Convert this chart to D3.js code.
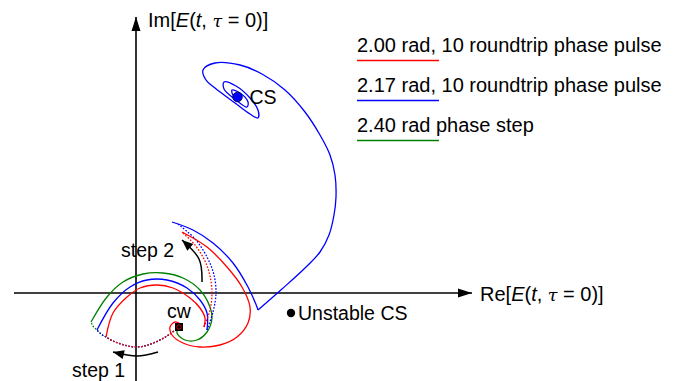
<!DOCTYPE html>
<html>
<head>
<meta charset="utf-8">
<script src="https://cdn.jsdelivr.net/npm/d3@7"></script>
<style>
  body { margin: 0; background: #fff; }
  svg { display: block; font-family: "Liberation Sans", Arial, sans-serif; }
</style>
</head>
<body>
<div id="chart"></div>
<script>
// special points (Re, Im) in arbitrary field units
const cwPoint = [4.3, -3.4];
const csPoint = [10.15, 19.6];
const unstablePoint = [15.5, -2.0];

// step 1 : phase jump from cw (dotted)
const step1Path = [[4.3, -3.4], [3.4, -4.1], [2.4, -4.7], [1.2, -5.2], [0, -5.4], [-1.2, -5.2],
  [-2.3, -4.8], [-3.0, -4.4], [-3.5, -4.1], [-3.9, -3.7], [-4.3, -3.3], [-4.5, -2.9]];
const step1End = { red: 8, blue: 10, green: 12 };

// evolution after step 1 (solid)
const arcRed = [[-3.0, -4.4], [-2.3, -2.0], [-0.9, -0.4], [0.4, 0.5], [2.1, 0.8], [3.7, 0.5],
  [5.4, -0.5], [6.4, -1.5], [6.9, -2.5], [6.8, -3.4]];
const arcBlue = [[-3.9, -3.7], [-2.3, -1.0], [-0.6, 0.6], [1.1, 1.3], [3.1, 1.3], [5.1, 0.5],
  [6.4, -0.7], [7.1, -2.0], [7.1, -3.7]];
const arcGreen = [[-4.5, -2.9], [-2.9, -0.4], [-1.3, 1.1], [0.7, 1.9], [2.7, 2.0], [4.7, 1.5],
  [6.4, 0.3], [7.4, -1.4], [7.6, -2.5], [7.1, -3.9], [6.1, -4.7], [4.9, -4.7], [4.1, -4.0], [4.3, -3.4]];

// step 2 : phase jump back (dotted)
const step2Red = [[6.8, -3.4], [7.4, -1.7], [7.6, 0], [7.4, 1.7], [6.9, 3.2], [5.9, 4.8], [4.6, 6.1]];
const step2Blue = [[7.1, -3.7], [7.7, -1.9], [8.0, 0], [7.8, 1.8], [7.2, 3.4], [6.0, 5.3], [4.2, 6.9]];

// evolution after step 2 (solid)
const returnRed = [[4.6, 6.1], [7.1, 4.6], [9.1, 2.6], [10.6, 0.6], [11.4, -1.4], [11.2, -3.0],
  [10.1, -4.4], [8.4, -5.2], [6.4, -5.4], [4.7, -5.0], [3.6, -4.2], [3.4, -3.4], [3.9, -2.9],
  [4.5, -3.2], [4.4, -3.6], [4.3, -3.4]];
const returnBlueA = [[3.6, 7.1], [5.7, 6.3], [7.7, 5.0], [9.7, 3.0], [11.2, 0.6], [12.1, -1.4], [12.2, -1.7]];
const returnBlueB = [[12.2, -1.7], [14.6, 0.4], [16.9, 2.5], [18.4, 4.1], [19.3, 5.8], [19.8, 7.8],
  [20.0, 9.6], [19.9, 11.8], [19.4, 13.8], [18.4, 15.8], [16.9, 18.1], [14.9, 20.3], [12.6, 21.9],
  [10.4, 22.8], [7.9, 23.0], [6.7, 22.3], [7.0, 21.3], [7.9, 20.5], [9.9, 19.0], [11.4, 17.9],
  [12.2, 17.5], [12.2, 18.3], [11.4, 19.5], [10.0, 20.7], [8.8, 21.1], [8.8, 20.4], [10.0, 19.3],
  [11.1, 18.6], [11.2, 19.1], [10.4, 20.0], [9.6, 20.3], [9.7, 19.8], [10.15, 19.6]];

// step arrows
const arrowStep1 = [[2.2, -5.9], [0.1, -6.3], [-2.3, -5.9]];
const arrowStep2 = [[6.6, 1.1], [6.3, 3.4], [4.6, 5.3]];

const legendLabels = ["2.00 rad, 10 roundtrip phase pulse", "2.17 rad, 10 roundtrip phase pulse", "2.40 rad phase step"];
const legendColors = ["#ff0000", "#0000ff", "#008000"];

const width = 676, height = 381;

const svg = d3.select("#chart").append("svg")
  .attr("width", width)
  .attr("height", height);

const x = d3.scaleLinear().domain([0, 10]).range([136, 236]);
const y = d3.scaleLinear().domain([0, 10]).range([293, 193]);

const defs = svg.append("defs");
defs.append("marker")
  .attr("id", "axhead")
  .attr("markerUnits", "userSpaceOnUse")
  .attr("viewBox", "-14 -5 14 10")
  .attr("refX", 0).attr("refY", 0)
  .attr("markerWidth", 14).attr("markerHeight", 10)
  .attr("orient", "auto")
  .append("path")
  .attr("d", "M0,0 L-14,-4.5 L-14,4.5 Z")
  .attr("fill", "#000");
defs.append("marker")
  .attr("id", "stephead")
  .attr("markerUnits", "userSpaceOnUse")
  .attr("viewBox", "-12 -5 12 10")
  .attr("refX", 0).attr("refY", 0)
  .attr("markerWidth", 12).attr("markerHeight", 10)
  .attr("orient", "auto")
  .append("path")
  .attr("d", "M0,0 L-11,-4.5 L-11,4.5 Z")
  .attr("fill", "#000");

// axes
svg.append("line")
  .attr("x1", x(-12.2)).attr("y1", y(0))
  .attr("x2", x(33.6)).attr("y2", y(0))
  .attr("stroke", "#000").attr("stroke-width", 1.6)
  .attr("marker-end", "url(#axhead)");
svg.append("line")
  .attr("x1", x(0)).attr("y1", y(-8.8))
  .attr("x2", x(0)).attr("y2", y(27.6))
  .attr("stroke", "#000").attr("stroke-width", 1.6)
  .attr("marker-end", "url(#axhead)");

function axisLabel(px, py, head) {
  const t = svg.append("text").attr("x", px).attr("y", py).attr("font-size", 20);
  t.append("tspan").text(head + "[");
  t.append("tspan").attr("font-style", "italic").text("E");
  t.append("tspan").text("(");
  t.append("tspan").attr("font-style", "italic").text("t");
  t.append("tspan").text(", ");
  t.append("tspan").attr("font-style", "italic").attr("font-family", "DejaVu Serif").attr("font-size", 17.5).text("τ");
  t.append("tspan").text(" = 0)]");
}
axisLabel(148, 27, "Im");
axisLabel(480, 301, "Re");

const line = d3.line()
  .x(d => x(d[0]))
  .y(d => y(d[1]))
  .curve(d3.curveCatmullRom.alpha(0.5));

function draw(pts, color, dotted) {
  svg.append("path")
    .attr("d", line(pts))
    .attr("fill", "none")
    .attr("stroke", color)
    .attr("stroke-width", 1.3)
    .attr("stroke-dasharray", dotted ? "1.6,1.6" : null);
}

// step 1 jumps
draw(step1Path.slice(0, step1End.green), "#008000", true);
draw(step1Path.slice(0, step1End.blue), "#0000ff", true);
draw(step1Path.slice(0, step1End.red), "#ff0000", true);

draw(arcGreen, "#008000", false);
draw(arcBlue, "#0000ff", false);
draw(arcRed, "#ff0000", false);

draw(step2Red, "#ff0000", true);
draw(step2Blue, "#0000ff", true);

draw(returnRed, "#ff0000", false);
draw(returnBlueA, "#0000ff", false);
draw(returnBlueB, "#0000ff", false);

// step arrows
[arrowStep1, arrowStep2].forEach(a => {
  svg.append("path")
    .attr("d", d3.line().x(d => x(d[0])).y(d => y(d[1])).curve(d3.curveNatural)(a))
    .attr("fill", "none")
    .attr("stroke", "#000")
    .attr("stroke-width", 1.5)
    .attr("marker-end", "url(#stephead)");
});

// points
svg.append("rect")
  .attr("x", x(cwPoint[0]) - 4).attr("y", y(cwPoint[1]) - 4)
  .attr("width", 8).attr("height", 8)
  .attr("fill", "#000");
svg.append("circle")
  .attr("cx", x(cwPoint[0])).attr("cy", y(cwPoint[1])).attr("r", 2.2)
  .attr("fill", "none").attr("stroke", "#ff0000").attr("stroke-width", 0.8);
svg.append("circle")
  .attr("cx", x(csPoint[0])).attr("cy", y(csPoint[1])).attr("r", 4.8)
  .attr("fill", "#0000ff").attr("stroke", "#000033").attr("stroke-width", 0.8);
svg.append("circle")
  .attr("cx", x(unstablePoint[0])).attr("cy", y(unstablePoint[1])).attr("r", 4.2)
  .attr("fill", "#000");

const labels = [
  { t: "cw", px: x(cwPoint[0]) - 12, py: y(cwPoint[1]) - 9 },
  { t: "CS", px: x(csPoint[0]) + 12, py: y(csPoint[1]) + 7 },
  { t: "Unstable CS", px: x(unstablePoint[0]) + 7, py: y(unstablePoint[1]) + 7 },
  { t: "step 1", px: 72, py: 377 },
  { t: "step 2", px: 121, py: 257 }
];
svg.selectAll("text.lbl").data(labels).enter().append("text")
  .attr("class", "lbl")
  .attr("x", d => d.px).attr("y", d => d.py)
  .attr("font-size", 19.5)
  .text(d => d.t);

// legend
const leg = svg.append("g").attr("transform", "translate(357,0)");
legendLabels.forEach((s, i) => {
  leg.append("text")
    .attr("x", 0).attr("y", 52 + i * 40)
    .attr("font-size", 20)
    .text(s);
  leg.append("line")
    .attr("x1", 0).attr("x2", 82)
    .attr("y1", 60.5 + i * 40).attr("y2", 60.5 + i * 40)
    .attr("stroke", legendColors[i]).attr("stroke-width", 1.3);
});
</script>
</body>
</html>
